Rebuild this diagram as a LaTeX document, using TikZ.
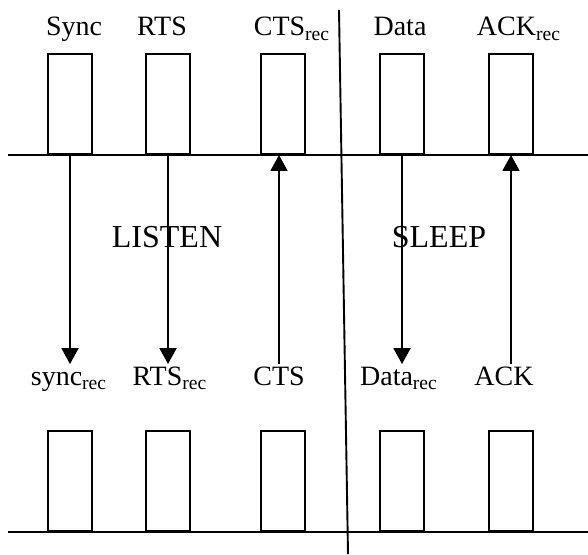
\documentclass[tikz,border=0pt]{standalone}
\usepackage{fontspec}
\setmainfont{Liberation Serif}
\usetikzlibrary{arrows.meta}

\begin{document}
\begin{tikzpicture}[x=0.5pt,y=-0.5pt,line width=0.95pt,
  pulse/.style={draw,minimum width=22pt,minimum height=50pt,inner sep=0pt,anchor=south},
  lbl/.style={font=\fontsize{14}{16}\selectfont,inner sep=0pt,text height=10pt,text depth=3pt,anchor=base},
  phase/.style={font=\fontsize{16}{18}\selectfont,inner sep=0pt,anchor=base},
  sig/.style={-{Triangle[width=8.5pt,length=8pt]}}]
  \useasboundingbox (0,0) rectangle (588,555);

  \coordinate (tl) at (8,155);
  \coordinate (tr) at (588,155);
  \coordinate (bl) at (8,532);
  \coordinate (br) at (588,532);
  \coordinate (dtop) at (339,10);
  \coordinate (dbot) at (348,554);

  \draw (tl) -- (tr);
  \draw (bl) -- (br);
  \draw (dtop) -- (dbot);

  \node[pulse] (p1) at (70,155) {};
  \node[pulse] (p2) at (168,155) {};
  \node[pulse] (p3) at (283,155) {};
  \node[pulse] (p4) at (402,155) {};
  \node[pulse] (p5) at (511,155) {};

  \node[pulse] (q1) at (70,532) {};
  \node[pulse] (q2) at (168,532) {};
  \node[pulse] (q3) at (283,532) {};
  \node[pulse] (q4) at (402,532) {};
  \node[pulse] (q5) at (511,532) {};

  \node[lbl] (t1) at (74,36) {Sync};
  \node[lbl] (t2) at (162,36) {RTS};
  \node[lbl] (t3) at (292,36) {CTS\textsubscript{rec}};
  \node[lbl] (t4) at (400,36) {Data};
  \node[lbl] (t5) at (519,36) {ACK\textsubscript{rec}};

  \node[lbl] (b1) at (69,385) {sync\textsubscript{rec}};
  \node[lbl] (b2) at (170,385) {RTS\textsubscript{rec}};
  \node[lbl] (b3) at (279,385) {CTS};
  \node[lbl] (b4) at (399,385) {Data\textsubscript{rec}};
  \node[lbl] (b5) at (504,385) {ACK};

  \node[phase] (listen) at (167,248) {LISTEN};
  \node[phase] (sleep) at (439,248) {SLEEP};

  \draw[sig] (p1.south) -- (p1.south |- b1.north);
  \draw[sig] (p2.south) -- (p2.south |- b2.north);
  \draw[sig] (b3.north) -- (b3.north |- p3.south);
  \draw[sig] (p4.south) -- (p4.south |- b4.north);
  \draw[sig] (p5.south |- b5.north) -- (p5.south);
\end{tikzpicture}
\end{document}
